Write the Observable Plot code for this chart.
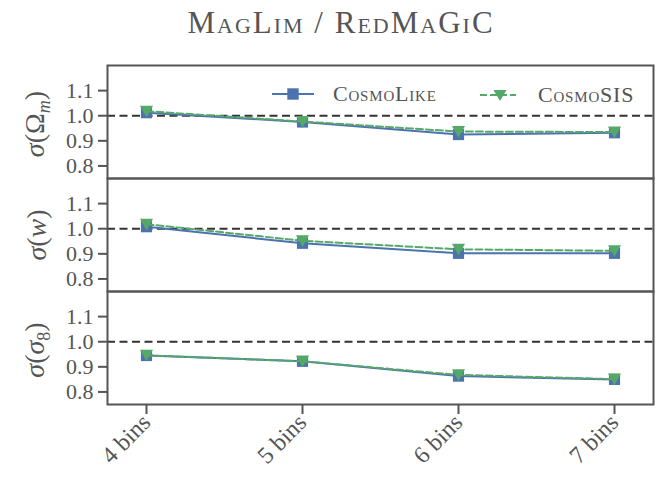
<!DOCTYPE html>
<html><head><meta charset="utf-8">
<script src="https://cdn.jsdelivr.net/npm/d3@7"></script>
<script src="https://cdn.jsdelivr.net/npm/@observablehq/plot@0.6"></script>
<style>
body{margin:0;background:#fff}
#wrap{position:relative;width:656px;height:483px;font-family:"Liberation Serif",serif;color:#555;overflow:hidden}
#wrap svg{position:absolute;left:0;top:0}
.title{position:absolute;top:7px;left:341px;transform:translateX(-50%);font-size:31px;letter-spacing:2px;font-variant:small-caps;white-space:nowrap;line-height:1}
.ylab{position:absolute;font-size:28px;white-space:nowrap;line-height:1;transform:translate(-50%,-50%) rotate(-90deg)}
.ylab sub{font-size:18px}
.leg{position:absolute;font-size:22px;letter-spacing:0.8px;font-variant:small-caps;white-space:nowrap;line-height:1;display:flex;align-items:center}
.leg svg{position:static !important}
</style></head>
<body><div id="wrap"></div>
<script>
const bins = [4, 5, 6, 7];
const xTickLabels = ["4 bins", "5 bins", "6 bins", "7 bins"];
const params = ["Om", "w", "s8"];
const yTicks = [0.8, 0.9, 1.0, 1.1];
const codes = ["CosmoLike", "CosmoSIS"];
const cosmolikeOm = [1.012, 0.975, 0.925, 0.932];
const cosmosisOm  = [1.018, 0.977, 0.937, 0.935];
const cosmolikeW  = [1.008, 0.942, 0.902, 0.902];
const cosmosisW   = [1.018, 0.952, 0.918, 0.912];
const cosmolikeS8 = [0.945, 0.922, 0.863, 0.850];
const cosmosisS8  = [0.946, 0.922, 0.868, 0.851];

const blue = "#4c72b0", green = "#55a868";
const series = {
  Om: {CosmoLike: cosmolikeOm, CosmoSIS: cosmosisOm},
  w:  {CosmoLike: cosmolikeW,  CosmoSIS: cosmosisW},
  s8: {CosmoLike: cosmolikeS8, CosmoSIS: cosmosisS8}
};
const rows = [];
for (const p of params) for (const c of codes) series[p][c].forEach((v, i) => rows.push({param: p, code: c, bin: bins[i], value: v}));
const lk = rows.filter(d => d.code === "CosmoLike");
const ss = rows.filter(d => d.code === "CosmoSIS");

const triDown = {draw(ctx, size) {
  const r = Math.sqrt(size / Math.PI);
  ctx.moveTo(-r, -0.85 * r); ctx.lineTo(r, -0.85 * r); ctx.lineTo(0, 0.95 * r); ctx.closePath();
}};

const chart = Plot.plot({
  width: 656, height: 483,
  marginTop: 65, marginBottom: 79, marginLeft: 107, marginRight: 3,
  style: {fontFamily: "Liberation Serif, serif", fontSize: "22px", color: "#555", background: "transparent", overflow: "visible"},
  x: {domain: [3.75, 7.25]},
  y: {domain: [0.75, 1.2]},
  fy: {domain: params, padding: 0, axis: null},
  marks: [
    Plot.ruleY([1], {stroke: "#333", strokeWidth: 2, strokeDasharray: "8,4.5"}),
    Plot.line(lk, {x: "bin", y: "value", fy: "param", stroke: blue, strokeWidth: 2}),
    Plot.dot(lk, {x: "bin", y: "value", fy: "param", symbol: "square", r: 6.3, fill: blue}),
    Plot.line(ss, {x: "bin", y: "value", fy: "param", stroke: green, strokeWidth: 2, strokeDasharray: "7,3"}),
    Plot.dot(ss, {x: "bin", y: "value", fy: "param", symbol: triDown, r: 6.5, fill: green}),
    Plot.frame({stroke: "#555", strokeWidth: 2}),
    Plot.axisY({ticks: yTicks, tickFormat: d => d.toFixed(1), tickSize: 9, tickPadding: 5, strokeWidth: 2, label: null, fontSize: 22}),
    Plot.axisX({ticks: bins, tickFormat: d => xTickLabels[bins.indexOf(d)], tickSize: 10, tickPadding: 4, tickRotate: -45, strokeWidth: 2, label: null, fontSize: 24})
  ]
});
const wrap = document.getElementById("wrap");
wrap.appendChild(chart);

const add = (cls, html, style) => { const el = document.createElement("div"); el.className = cls; el.innerHTML = html; Object.assign(el.style, style); wrap.appendChild(el); return el; };
add("title", "MagLim / RedMaGiC", {});
add("ylab", "<i>σ</i>(Ω<sub><i>m</i></sub>)", {left: "37px", top: "124px"});
add("ylab", "<i>σ</i>(<i>w</i>)", {left: "37px", top: "235px"});
add("ylab", "<i>σ</i>(<i>σ</i><sub>8</sub>)", {left: "37px", top: "350px"});
add("leg",
  `<svg width="42" height="16"><line x1="0" x2="42" y1="8" y2="8" stroke="${blue}" stroke-width="2"/><rect x="15.3" y="2.3" width="11.4" height="11.4" fill="${blue}"/></svg><span style="margin-left:19px">${codes[0]}</span>`,
  {left: "272px", top: "83px"});
add("leg",
  `<svg width="36" height="16"><line x1="0" x2="36" y1="8" y2="8" stroke="${green}" stroke-width="2" stroke-dasharray="7,3"/><path d="M13.5,3 L26.5,3 L20,14 Z" fill="${green}"/></svg><span style="margin-left:22px">${codes[1]}</span>`,
  {left: "480px", top: "84px"});
</script></body></html>
